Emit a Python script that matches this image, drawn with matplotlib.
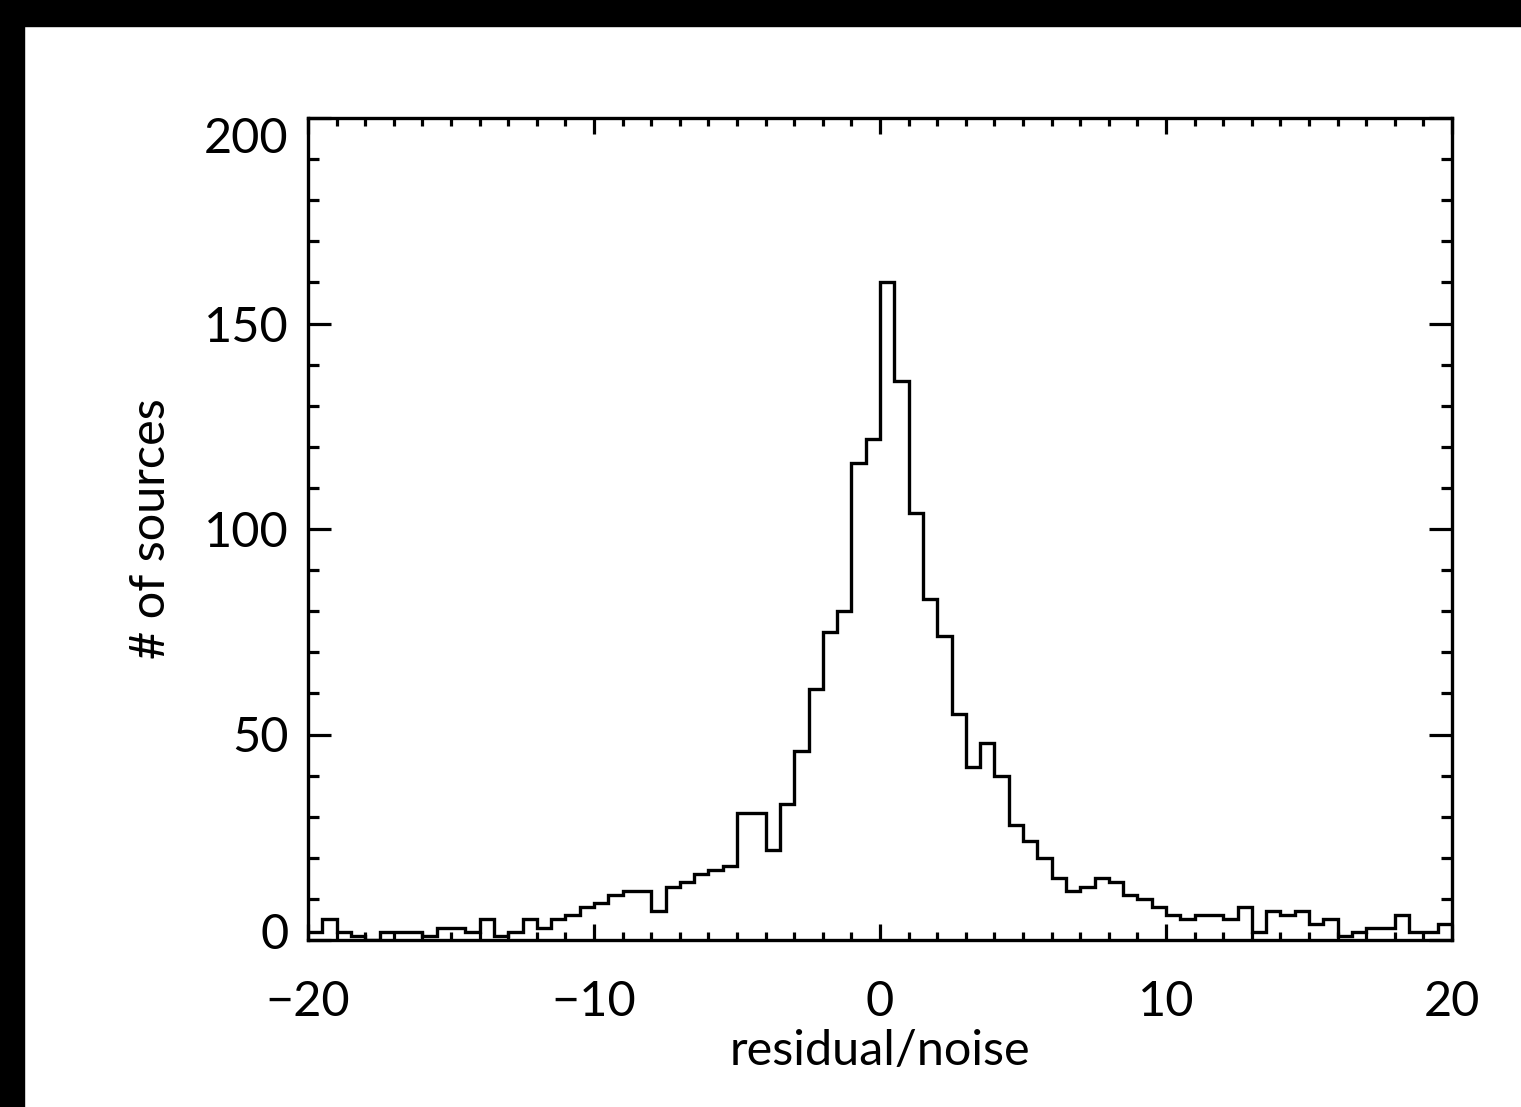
import matplotlib

matplotlib.use("Agg")
import matplotlib.pyplot as plt
import numpy as np
from matplotlib.patches import Rectangle
from matplotlib.transforms import ScaledTranslation

# histogram of residual/noise, 80 bins of width 0.5 from -20 to 20
bin_lo = -20.0
bin_hi = 20.0
counts = [
    2, 5, 2, 1, 0, 2, 2, 2, 1, 3,
    3, 2, 5, 1, 2, 5, 3, 5, 6, 8,
    9, 11, 12, 12, 7, 13, 14, 16, 17, 18,
    31, 31, 22, 33, 46, 61, 75, 80, 116, 122,
    160, 136, 104, 83, 74, 55, 42, 48, 40, 28,
    24, 20, 15, 12, 13, 15, 14, 11, 10, 8,
    6, 5, 6, 6, 5, 8, 2, 7, 6, 7,
    4, 5, 1, 2, 3, 3, 6, 2, 2, 4,
]
x_major = [-20, -10, 0, 10, 20]
y_major = [0, 50, 100, 150, 200]

W, H, DPI = 1521, 1107, 100
FONT = {"family": ["Lato", "DejaVu Sans"], "weight": "normal", "size": 35}


def main() -> None:
    fig = plt.figure(figsize=(W / DPI, H / DPI), dpi=DPI)
    fig.patch.set_facecolor("white")

    # black strips along top and left edge, as in the screenshot
    fig.add_artist(Rectangle((0, 1 - 26 / H), 1, 26 / H, transform=fig.transFigure,
                             color="black", zorder=-5))
    fig.add_artist(Rectangle((0, 0), 24 / W, 1, transform=fig.transFigure,
                             color="black", zorder=-5))

    left, right, top, bottom = 308, 1452, 118, 940
    ax = fig.add_axes([left / W, 1 - bottom / H, (right - left) / W, (bottom - top) / H])

    edges = np.linspace(bin_lo, bin_hi, len(counts) + 1)
    ax.stairs(counts, edges, baseline=None, color="black", linewidth=2.4)

    ax.set_xlim(bin_lo, bin_hi)
    ax.set_ylim(0, 200)
    ax.set_xticks(x_major)
    ax.set_xticklabels([f"{v:d}".replace("-", "\u2212") for v in x_major])
    ax.set_yticks(y_major)
    ax.set_xticks(np.arange(-20, 21, 1), minor=True)
    ax.set_yticks(np.arange(0, 201, 10), minor=True)

    for side in ax.spines.values():
        side.set_linewidth(2.4)
        side.set_color("black")

    ax.tick_params(axis="x", which="major", direction="in", length=11.8, width=2.3,
                   top=True, bottom=True, pad=29)
    ax.tick_params(axis="x", which="minor", direction="in", length=5.9, width=2.3,
                   top=True, bottom=True)
    ax.tick_params(axis="y", which="major", direction="in", length=16.5, width=2.3,
                   left=True, right=True, pad=14)
    ax.tick_params(axis="y", which="minor", direction="in", length=8.2, width=2.3,
                   left=True, right=True)

    for lab in ax.get_xticklabels() + ax.get_yticklabels():
        lab.set_fontfamily(FONT["family"])
        lab.set_fontweight(FONT["weight"])
        lab.set_fontsize(FONT["size"])

    # end labels on the y axis sit inside the frame
    ylabs = ax.get_yticklabels()
    ylabs[-1].set_transform(ylabs[-1].get_transform()
                            + ScaledTranslation(0, -17 / DPI, fig.dpi_scale_trans))
    ylabs[0].set_transform(ylabs[0].get_transform()
                           + ScaledTranslation(0, 9 / DPI, fig.dpi_scale_trans))

    ax.set_xlabel("residual/noise", fontdict=FONT)
    ax.set_ylabel("# of sources", fontdict=FONT)
    ax.xaxis.set_label_coords(0.5, -0.108)
    ax.yaxis.set_label_coords(-0.118, 0.5)

    fig.savefig("out.png", dpi=DPI, facecolor=fig.get_facecolor())
    plt.close(fig)


if __name__ == "__main__":
    main()
